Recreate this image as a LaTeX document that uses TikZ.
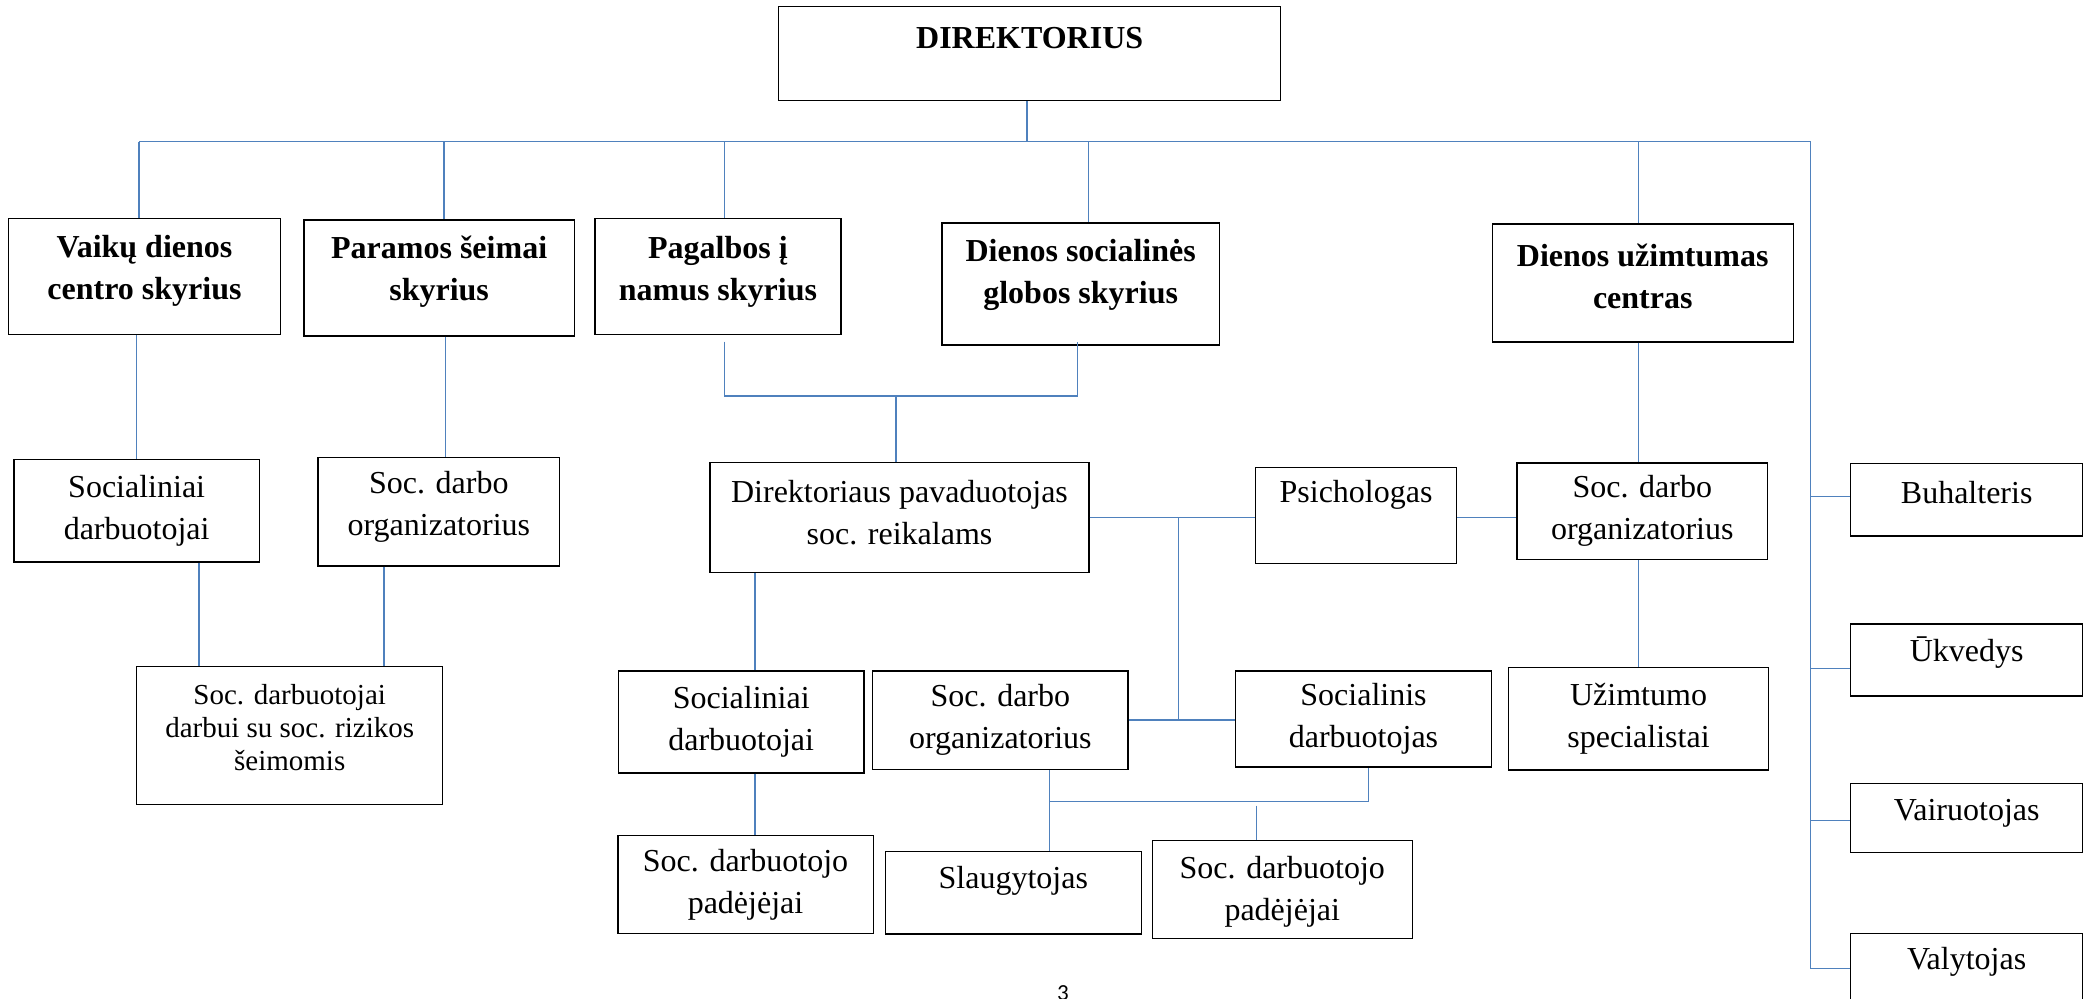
\documentclass[tikz,border=0pt]{standalone}
\usepackage{fontspec}
\setmainfont{Liberation Serif}
\newfontfamily\pagenumfont{Carlito}
\definecolor{connblue}{HTML}{4F81BD}
\tikzset{
  box/.style={draw=black, line width=0.7pt, rectangle, inner sep=0pt},
  txt/.style={align=center, inner sep=0pt, font=\fontsize{16}{21}\selectfont},
  hdr/.style={font=\fontsize{16}{21}\selectfont\bfseries},
  smalltxt/.style={font=\fontsize{14.5}{16.5}\selectfont},
  conn/.style={draw=connblue, line width=0.75pt},
}
% \obox[text style]{name}{x1}{y1}{x2}{y2}{up-shift px}{text}
\newcommand\obox[8][]{%
  \pgfmathsetmacro\obcx{(#3+#5)/2}%
  \pgfmathsetmacro\obcy{(#4+#6)/2}%
  \pgfmathsetmacro\obww{(#5-#3)*0.5}%
  \pgfmathsetmacro\obhh{(#6-#4)*0.5}%
  \node[box,minimum width=\obww pt,minimum height=\obhh pt] (#2) at (\obcx,\obcy) {};
  \node[txt,#1] (#2-t) at ([yshift=#7*0.5pt]#2.center) {#8};
}
\begin{document}
\begin{tikzpicture}[x=0.5pt,y=-0.5pt]
\fill[white] (0,0) rectangle (2092,998);
\useasboundingbox (0,0) rectangle (2092,998);

% ---- boxes ----
\obox[hdr]{dir}{778.7}{6.7}{1280.6}{100.7}{16}{DIREKTORIUS}
\obox[hdr]{vaik}{8.4}{218.3}{280.6}{334.3}{5}{Vaikų dienos\\centro skyrius}
\obox[hdr]{param}{303.8}{220}{574.5}{336}{6}{Paramos šeimai\\skyrius}
\obox[hdr]{pagal}{594.9}{218.3}{841}{334.7}{5}{Pagalbos į\\namus skyrius}
\obox[hdr]{dsoc}{942}{223}{1219.4}{345}{9}{Dienos socialinės\\globos skyrius}
\obox[hdr]{duz}{1492.3}{224}{1793.2}{342}{7}{Dienos užimtumas\\centras}

\obox{socL}{13.8}{459.7}{259.5}{562}{0}{Socialiniai\\darbuotojai}
\obox{orgL}{318}{457.3}{559.7}{566}{5}{Soc. darbo\\organizatorius}
\obox[smalltxt]{darb}{136.7}{666.7}{442.7}{804.3}{8}{Soc. darbuotojai\\darbui su soc. rizikos\\šeimomis}

\obox{dirpav}{710}{462.5}{1089}{572.5}{5}{Direktoriaus pavaduotojas\\soc. reikalams}
\obox{psich}{1255.6}{467.5}{1456.5}{563.6}{21}{Psichologas}
\obox{orgR}{1517}{463}{1767.6}{559.4}{0}{Soc. darbo\\organizatorius}

\obox{socM}{618.4}{671}{864}{773}{0}{Socialiniai\\darbuotojai}
\obox{orgM}{872.7}{671}{1128}{769.3}{0}{Soc. darbo\\organizatorius}
\obox{socis}{1235.5}{671}{1491.5}{767}{0}{Socialinis\\darbuotojas}
\obox{uzs}{1508.6}{667.7}{1768.5}{770}{0}{Užimtumo\\specialistai}

\obox{padL}{617.8}{835.5}{873.2}{933.4}{0}{Soc. darbuotojo\\padėjėjai}
\obox{slaug}{885.3}{851.5}{1141.3}{934.1}{12}{Slaugytojas}
\obox{padR}{1152.2}{840.5}{1412.3}{938.3}{-2}{Soc. darbuotojo\\padėjėjai}

\obox{buh}{1850.6}{463.7}{2082.7}{535.8}{7}{Buhalteris}
\obox{ukv}{1850.6}{623.9}{2082.7}{696}{7}{Ūkvedys}
\obox{vair}{1850.6}{783.7}{2082.7}{852.3}{5}{Vairuotojas}
\obox{valy}{1850.7}{933.3}{2082.5}{1003.7}{7}{Valytojas}

% ---- coordinates ----
\coordinate (J0) at (1027,141.7);
\coordinate (BL) at (139,141.7);
\coordinate (BR) at (1810.5,141.7);
\coordinate (BB) at (1810.5,968.5);
\coordinate (P1) at (444,141.7);
\coordinate (P2) at (724.5,141.7);
\coordinate (P3) at (1088.6,141.7);
\coordinate (P4) at (1638.5,141.7);
\coordinate (X1) at (445.5,0);
\coordinate (D1) at (199,0);
\coordinate (D2) at (384,0);
\coordinate (K1) at (724.3,341.7);
\coordinate (K2) at (1077.7,341.7);
\coordinate (KM) at (896,396);
\coordinate (V) at (1178.7,0);
\coordinate (W) at (755,0);
\coordinate (S1) at (1049.5,801.5);
\coordinate (S2) at (1368.7,801.5);
\coordinate (S3) at (1256.3,805.7);
\coordinate (Hbuh) at ([yshift=1.6pt]buh.west);
\coordinate (Hukv) at ([yshift=-4.25pt]ukv.west);
\coordinate (Hvair) at ([yshift=-1.35pt]vair.west);

% ---- connectors ----
\draw[conn] (dir.south -| J0) -- (J0);
\draw[conn] (BL) -- (BR) -- (BB) -- (BB -| valy.west);
\draw[conn] (BL) -- (BL |- vaik.north);
\draw[conn] (P1) -- (P1 |- param.north);
\draw[conn] (P2) -- (P2 |- pagal.north);
\draw[conn] (P3) -- (P3 |- dsoc.north);
\draw[conn] (P4) -- (P4 |- duz.north);
\draw[conn] (BR |- Hbuh) -- (Hbuh);
\draw[conn] (BR |- Hukv) -- (Hukv);
\draw[conn] (BR |- Hvair) -- (Hvair);

\draw[conn] (socL.north |- vaik.south) -- (socL.north);
\draw[conn] (param.south -| X1) -- (orgL.north -| X1);
\draw[conn] (socL.south -| D1) -- (darb.north -| D1);
\draw[conn] (orgL.south -| D2) -- (darb.north -| D2);

\draw[conn] (K1) |- (KM) -| (K2);
\draw[conn] (KM) -- (dirpav.north -| KM);
\draw[conn] (dirpav.east) -- (dirpav.east -| psich.west);
\draw[conn] (psich.east |- dirpav.east) -- (orgR.west |- dirpav.east);
\draw[conn] (V |- dirpav.east) -- (V |- orgM.east);
\draw[conn] (orgM.east) -- (orgM.east -| socis.west);

\draw[conn] (duz.south -| P4) -- (orgR.north -| P4);
\draw[conn] (orgR.south -| P4) -- (uzs.north -| P4);

\draw[conn] (dirpav.south -| W) -- (socM.north -| W);
\draw[conn] (socM.south -| W) -- (padL.north -| W);

\draw[conn] (orgM.south -| S1) -- (S1) -- (S2) -- (S2 |- socis.south);
\draw[conn] (S1) -- (slaug.north -| S1);
\draw[conn] (S3) -- (S3 |- padR.north);

% page number
\node[anchor=base, inner sep=0pt, font=\pagenumfont\fontsize{11.5}{13}\selectfont] (pg) at (1063,1000) {3};
\end{tikzpicture}
\end{document}
